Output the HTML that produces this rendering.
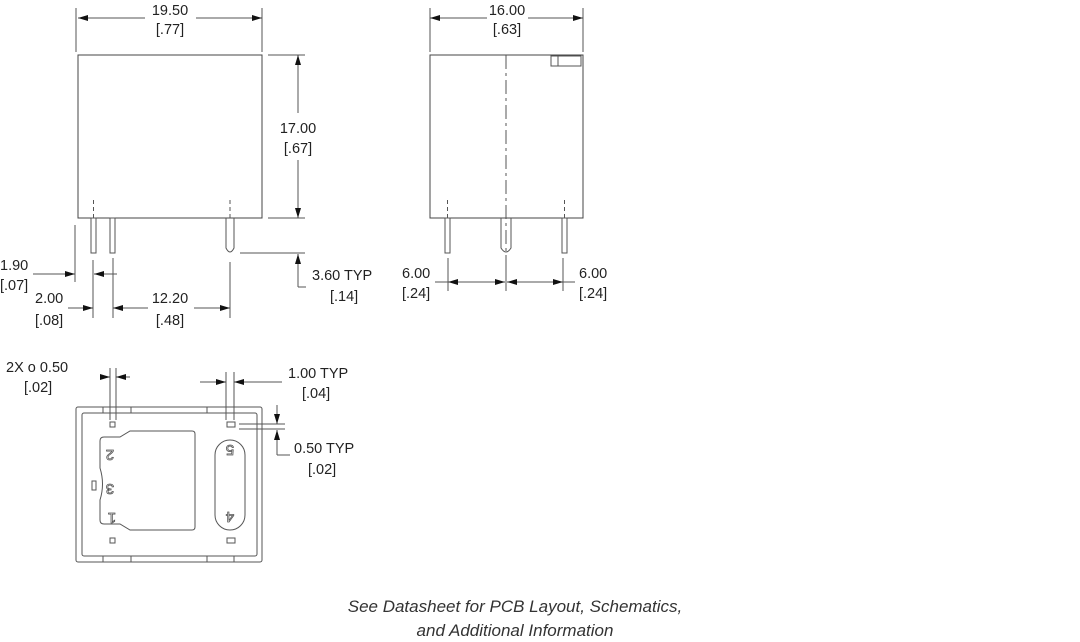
<!DOCTYPE html>
<html><head><meta charset="utf-8"><style>
html,body{margin:0;padding:0;background:#fff;}
svg{display:block;}
text{font-family:"Liberation Sans",sans-serif;font-size:14.5px;fill:#222;}
.f{font-style:italic;font-size:17px;fill:#333;}
</style></head><body>
<svg width="1080" height="642" viewBox="0 0 1080 642" xmlns="http://www.w3.org/2000/svg">
<defs>
<marker id="a" viewBox="0 0 10 6" refX="10" refY="3" markerWidth="10" markerHeight="6" orient="auto-start-reverse" markerUnits="userSpaceOnUse"><path d="M0,0 L10,3 L0,6z" fill="#111"/></marker>
</defs>
<g stroke="#555" stroke-width="1" fill="none">
<!-- FRONT VIEW -->
<path d="M78,55 H262 V218 H78 Z" stroke="#444"/>
<line x1="76" y1="8" x2="76" y2="52"/><line x1="262" y1="8" x2="262" y2="52"/>
<line x1="78" y1="18" x2="145" y2="18" marker-start="url(#a)"/>
<line x1="196" y1="18" x2="262" y2="18" marker-end="url(#a)"/>
<line x1="268" y1="55" x2="305" y2="55"/><line x1="268" y1="218" x2="305" y2="218"/>
<line x1="298" y1="55" x2="298" y2="113" marker-start="url(#a)"/>
<line x1="298" y1="160" x2="298" y2="218" marker-end="url(#a)"/>
<rect x="91" y="218" width="5" height="35"/><line x1="93.5" y1="200" x2="93.5" y2="218" stroke-dasharray="4,3"/>
<rect x="110" y="218" width="5" height="35"/>
<path d="M226,218 V248 Q230,256 234,248 V218"/><line x1="230" y1="200" x2="230" y2="218" stroke-dasharray="4,3"/>
<line x1="75" y1="225" x2="75" y2="282"/>
<line x1="93" y1="260" x2="93" y2="318"/>
<line x1="113" y1="258" x2="113" y2="318"/>
<line x1="230" y1="262" x2="230" y2="318"/>
<line x1="33" y1="274" x2="75" y2="274" marker-end="url(#a)"/>
<line x1="117" y1="274" x2="94" y2="274" marker-end="url(#a)"/>
<line x1="68" y1="308" x2="93" y2="308" marker-end="url(#a)"/>
<line x1="148" y1="308" x2="113" y2="308" marker-end="url(#a)"/>
<line x1="194" y1="308" x2="230" y2="308" marker-end="url(#a)"/>
<line x1="240" y1="253" x2="305" y2="253"/>
<polyline points="298,287 298,254" marker-end="url(#a)"/>
<line x1="298" y1="287" x2="306" y2="287"/>
<!-- SIDE VIEW -->
<path d="M430,55 H583 V218 H430 Z" stroke="#444"/>
<line x1="430" y1="8" x2="430" y2="52"/><line x1="583" y1="8" x2="583" y2="52"/>
<line x1="430" y1="18" x2="487" y2="18" marker-start="url(#a)"/>
<line x1="528" y1="18" x2="583" y2="18" marker-end="url(#a)"/>
<rect x="551" y="56" width="30" height="10"/><line x1="558" y1="56" x2="558" y2="66"/>
<line x1="506" y1="55" x2="506" y2="258" stroke-dasharray="14,4,3,4"/>
<rect x="445" y="218" width="5" height="35"/><line x1="447.5" y1="200" x2="447.5" y2="218" stroke-dasharray="4,3"/>
<rect x="562" y="218" width="5" height="35"/><line x1="564.5" y1="200" x2="564.5" y2="218" stroke-dasharray="4,3"/>
<path d="M501,218 V248 Q506,256 511,248 V218"/>
<line x1="448" y1="258" x2="448" y2="291"/><line x1="506" y1="258" x2="506" y2="291"/><line x1="563" y1="258" x2="563" y2="291"/>
<line x1="435" y1="282" x2="448" y2="282"/>
<line x1="448" y1="282" x2="505" y2="282" marker-start="url(#a)" marker-end="url(#a)"/>
<line x1="507" y1="282" x2="563" y2="282" marker-start="url(#a)" marker-end="url(#a)"/>
<line x1="563" y1="282" x2="575" y2="282"/>
<!-- BOTTOM VIEW -->
<rect x="76" y="407" width="186" height="155" rx="2"/>
<rect x="82" y="413" width="175" height="143" rx="2"/>
<line x1="103" y1="407" x2="103" y2="413"/><line x1="131" y1="407" x2="131" y2="413"/>
<line x1="207" y1="407" x2="207" y2="413"/><line x1="234" y1="407" x2="234" y2="413"/>
<line x1="103" y1="556" x2="103" y2="562"/><line x1="131" y1="556" x2="131" y2="562"/>
<line x1="207" y1="556" x2="207" y2="562"/><line x1="234" y1="556" x2="234" y2="562"/>
<line x1="110" y1="368" x2="110" y2="420"/><line x1="116" y1="368" x2="116" y2="420"/>
<line x1="226" y1="372" x2="226" y2="420"/><line x1="234" y1="372" x2="234" y2="420"/>
<rect x="110" y="422" width="5" height="5"/>
<rect x="227" y="422" width="8" height="5"/>
<rect x="110" y="538" width="5" height="5"/>
<rect x="227" y="538" width="8" height="5"/>
<rect x="92" y="481" width="4" height="9"/>
<path d="M100,441 Q100,437 104,437 H120 L130,431 H192 Q195,431 195,434 V527 Q195,530 192,530 H130 L120,524 H104 Q100,524 100,520 V500 Q105,484 100,468 Z"/>
<rect x="215" y="440" width="30" height="90" rx="15"/>
<line x1="100" y1="377" x2="110" y2="377" marker-end="url(#a)"/>
<line x1="130" y1="377" x2="116" y2="377" marker-end="url(#a)"/>
<line x1="200" y1="382" x2="226" y2="382" marker-end="url(#a)"/>
<line x1="282" y1="382" x2="234" y2="382" marker-end="url(#a)"/>
<line x1="239" y1="424" x2="285" y2="424"/><line x1="239" y1="429" x2="285" y2="429"/>
<line x1="277" y1="405" x2="277" y2="424" marker-end="url(#a)"/>
<polyline points="277,455 277,430" marker-end="url(#a)"/>
<line x1="277" y1="455" x2="290" y2="455"/>
</g>
<g>
<text x="170" y="15" text-anchor="middle">19.50</text>
<text x="170" y="34" text-anchor="middle">[.77]</text>
<text x="298" y="133" text-anchor="middle">17.00</text>
<text x="298" y="153" text-anchor="middle">[.67]</text>
<text x="0" y="270">1.90</text>
<text x="0" y="290">[.07]</text>
<text x="35" y="303">2.00</text>
<text x="35" y="325">[.08]</text>
<text x="170" y="303" text-anchor="middle">12.20</text>
<text x="170" y="325" text-anchor="middle">[.48]</text>
<text x="312" y="280">3.60 TYP</text>
<text x="330" y="301">[.14]</text>
<text x="507" y="15" text-anchor="middle">16.00</text>
<text x="507" y="34" text-anchor="middle">[.63]</text>
<text x="402" y="278">6.00</text>
<text x="402" y="298">[.24]</text>
<text x="579" y="278">6.00</text>
<text x="579" y="298">[.24]</text>
<text x="6" y="372">2X ο 0.50</text>
<text x="24" y="392">[.02]</text>
<text x="288" y="378">1.00 TYP</text>
<text x="302" y="398">[.04]</text>
<text x="294" y="453">0.50 TYP</text>
<text x="308" y="474">[.02]</text>
<text transform="translate(110,450) rotate(180)" text-anchor="middle" style="font-size:15px;fill:none;stroke:#555;stroke-width:0.8">2</text>
<text transform="translate(110,484) rotate(180)" text-anchor="middle" style="font-size:15px;fill:none;stroke:#555;stroke-width:0.8">3</text>
<text transform="translate(112,513) rotate(180)" text-anchor="middle" style="font-size:15px;fill:none;stroke:#555;stroke-width:0.8">1</text>
<text transform="translate(230,445) rotate(180)" text-anchor="middle" style="font-size:15px;fill:none;stroke:#555;stroke-width:0.8">5</text>
<text transform="translate(230,512) rotate(180)" text-anchor="middle" style="font-size:15px;fill:none;stroke:#555;stroke-width:0.8">4</text>
<text class="f" x="515" y="612" text-anchor="middle">See Datasheet for PCB Layout, Schematics,</text>
<text class="f" x="515" y="636" text-anchor="middle">and Additional Information</text>
</g>
</svg>
</body></html>
